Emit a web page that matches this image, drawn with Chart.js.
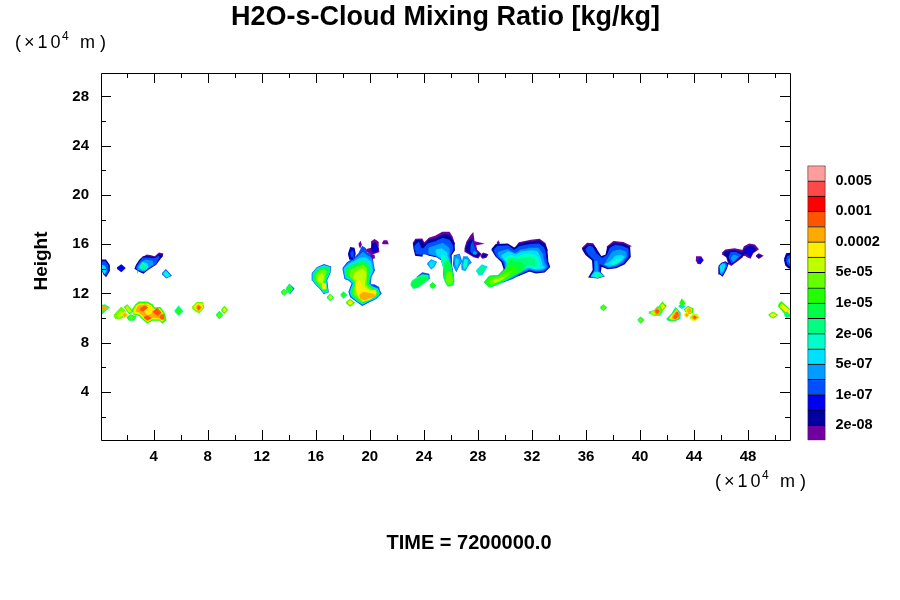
<!DOCTYPE html>
<html>
<head>
<meta charset="utf-8">
<title>H2O-s-Cloud Mixing Ratio</title>
<script src="https://cdn.jsdelivr.net/npm/chart.js@4"></script>
<style>
  html, body { margin: 0; background: #fff; }
  #wrap { position: relative; width: 900px; height: 600px; }
  canvas { position: absolute; left: 0; top: 0; }
</style>
</head>
<body>
<div id="wrap">
  <canvas id="fieldChart" width="900" height="600"></canvas>
  <canvas id="barChart" width="900" height="600"></canvas>
</div>
<script>
// axis values, in units of 10^4 m
const distanceTicks = [4, 8, 12, 16, 20, 24, 28, 32, 36, 40, 44, 48];
const distanceMinor = [2, 6, 10, 14, 18, 22, 26, 30, 34, 38, 42, 46, 50];
const heightTicks = [4, 8, 12, 16, 20, 24, 28];
const heightMinor = [2, 6, 10, 14, 18, 22, 26];

// colour levels, lowest to highest
const levelColors = ['#7000a0', '#0000a0', '#0000f0', '#0050ff', '#009cff', '#00e0ff', '#00ffc8', '#00ff80',
  '#00ff44', '#22ff00', '#66ff00', '#bfff00', '#ffee00', '#ffaa00', '#ff5500', '#ff0000', '#ff4848', '#ff9c9c'];
const levelLabels = ['2e-08', '1e-07', '5e-07', '2e-06', '1e-05', '5e-05', '0.0002', '0.001', '0.005'];
const levelLabelAt = [1, 3, 5, 7, 9, 11, 13, 15, 17];

// contour patches: [level, x, y, x, y, ...]
const upperWest = [
  [1, 0.07,14.7, 0.44,14.7, 0.7,14.3, 0.7,13.84, 0.47,13.42, 0.32,13.6, 0.2,13.9, 0.07,13.95],
  [3, 0.07,14.55, 0.4,14.55, 0.6,14.25, 0.6,13.85, 0.47,13.55, 0.34,13.72, 0.22,14.0, 0.07,14.05],
  [5, 0.07,14.3, 0.35,14.2, 0.47,13.84, 0.36,13.65, 0.2,13.95, 0.07,14.05],
  [2, 1.3,14.06, 1.6,14.3, 1.85,14.06, 1.6,13.8],
  [0, 3.2,14.9, 3.5,15.1, 3.8,15.05, 4.1,14.95, 4.4,15.25, 4.65,15.2, 4.6,15.0, 4.0,14.7, 3.4,14.7],
  [1, 4.64,15.1, 4.39,15.12, 4.15,14.9, 3.65,14.95, 3.23,14.95, 2.99,14.71, 2.74,14.3, 2.64,14.03, 2.91,13.84, 3.23,13.68, 3.48,13.9, 3.78,14.11, 4.15,14.38],
  [3, 4.4,15.0, 4.1,14.8, 3.6,14.85, 3.2,14.85, 3.0,14.55, 2.8,14.25, 2.75,14.03, 2.95,13.9, 3.25,13.78, 3.5,14.0, 3.8,14.2, 4.15,14.45],
  [4, 3.9,14.6, 3.4,14.7, 3.1,14.5, 2.9,14.2, 2.85,14.0, 3.1,13.9, 3.3,13.85, 3.55,14.1, 3.9,14.35],
  [5, 3.5,14.4, 3.2,14.5, 2.95,14.1, 3.2,13.95, 3.4,13.95, 3.55,14.15],
  [6, 3.0,14.2, 3.2,14.45, 3.45,14.2, 3.2,13.95],
  [7, 3.1,14.2, 3.2,14.3, 3.32,14.15, 3.2,14.0],
  [3, 4.64,13.6, 4.9,13.9, 5.26,13.45, 4.95,13.28],
  [5, 4.72,13.6, 4.9,13.8, 5.17,13.45, 4.97,13.35],
  [6, 4.85,13.6, 4.93,13.7, 5.05,13.5, 4.97,13.42]
];
const lowerWest = [
  [7, 0.07,11.0, 0.4,11.05, 0.67,10.85, 0.4,10.6, 0.2,10.4, 0.07,10.4],
  [13, 0.1,10.85, 0.4,10.95, 0.55,10.8, 0.3,10.65, 0.1,10.7],
  [10, 1.06,10.2, 1.3,10.5, 1.6,10.85, 1.85,10.6, 1.9,10.2, 1.6,10.0, 1.2,9.98],
  [11, 1.3,10.25, 1.6,10.55, 1.75,10.3, 1.45,10.1],
  [12, 1.7,10.25, 1.85,10.45, 2.05,10.25, 1.85,10.05],
  [13, 1.77,10.25, 1.85,10.35, 1.96,10.25, 1.85,10.15],
  [9, 1.85,10.9, 2.05,11.05, 2.4,10.55, 2.2,10.4],
  [11, 1.95,10.85, 2.05,10.95, 2.3,10.55, 2.2,10.5],
  [8, 2.05,10.05, 2.3,10.25, 2.65,10.1, 2.5,9.85, 2.2,9.85],
  [10, 2.2,10.05, 2.3,10.15, 2.52,10.05, 2.45,9.95, 2.25,9.95],
  [9, 2.42,10.65, 2.67,11.06, 2.91,11.28, 3.53,11.28, 3.9,11.06, 4.02,10.79, 4.47,10.84, 4.77,10.38, 4.89,9.84, 4.64,9.63, 4.47,9.84, 3.9,9.84, 3.53,9.63, 3.28,9.84, 2.91,10.25, 2.54,10.33],
  [12, 2.55,10.65, 2.75,11.0, 3.0,11.15, 3.5,11.15, 3.8,10.98, 3.98,10.68, 4.42,10.72, 4.68,10.35, 4.75,9.9, 4.62,9.78, 4.45,9.95, 3.9,9.95, 3.55,9.75, 3.32,9.95, 2.95,10.35, 2.6,10.42],
  [13, 2.7,10.6, 2.9,10.95, 3.4,11.05, 3.75,10.85, 3.85,10.55, 4.0,10.55, 4.4,10.6, 4.6,10.25, 4.65,9.95, 4.4,10.05, 3.9,10.1, 3.5,9.9, 3.3,10.15, 2.95,10.5],
  [12, 3.55,10.95, 3.85,10.8, 3.8,10.4, 3.55,10.3, 3.35,10.55],
  [14, 3.0,10.7, 3.3,10.95, 3.5,10.85, 3.2,10.6],
  [14, 4.0,10.5, 4.25,10.75, 4.5,10.45, 4.3,10.25],
  [14, 3.3,10.05, 3.55,10.15, 3.75,10.0, 3.55,9.85],
  [14, 4.5,10.15, 4.7,10.25, 4.72,9.95, 4.55,9.95],
  [6, 5.57,10.55, 5.85,10.95, 6.13,10.55, 5.85,10.25],
  [9, 5.68,10.55, 5.85,10.8, 6.02,10.55, 5.85,10.35],
  [10, 6.86,10.85, 7.2,11.25, 7.6,11.25, 7.7,10.85, 7.35,10.45, 7.1,10.6],
  [12, 7.0,10.85, 7.25,11.15, 7.55,11.1, 7.6,10.85, 7.35,10.6],
  [13, 7.15,10.85, 7.3,11.05, 7.5,10.9, 7.35,10.65],
  [14, 7.25,10.85, 7.32,10.95, 7.42,10.85, 7.33,10.72],
  [8, 8.65,10.25, 8.86,10.5, 9.07,10.25, 8.86,10.0],
  [10, 8.76,10.25, 8.86,10.38, 8.96,10.25, 8.86,10.12],
  [9, 9.03,10.65, 9.23,10.9, 9.43,10.65, 9.23,10.4],
  [12, 9.13,10.65, 9.23,10.78, 9.33,10.65, 9.23,10.52]
];
const middleCell = [
  [8, 13.45,12.09, 13.65,12.3, 13.87,12.09, 13.65,11.87],
  [10, 13.56,12.09, 13.65,12.2, 13.76,12.09, 13.65,11.98],
  [3, 13.85,12.36, 14.05,12.7, 14.35,12.4, 14.1,12.05],
  [7, 13.8,12.36, 14.05,12.7, 14.27,12.36, 14.05,12.05],
  [9, 13.92,12.36, 14.05,12.55, 14.17,12.36, 14.05,12.2],
  [3, 15.75,13.63, 16.1,14.08, 16.61,14.32, 17.08,14.15, 17.03,13.63, 16.79,13.09, 16.9,12.14, 16.61,12.0, 16.35,12.38, 15.97,12.8, 15.77,13.09],
  [5, 15.8,13.63, 16.12,14.03, 16.61,14.25, 17.03,14.11, 16.98,13.63, 16.74,13.09, 16.86,12.14, 16.61,12.06, 16.37,12.41, 16.0,12.82, 15.82,13.09],
  [8, 15.9,13.6, 16.2,13.95, 16.6,14.1, 16.92,14.0, 16.88,13.6, 16.65,13.05, 16.78,12.25, 16.62,12.15, 16.4,12.5, 16.05,12.9, 15.9,13.15],
  [10, 16.05,13.5, 16.3,13.8, 16.6,13.9, 16.75,13.75, 16.65,13.3, 16.55,12.9, 16.7,12.4, 16.55,12.35, 16.3,12.75, 16.05,13.1],
  [11, 16.2,13.4, 16.45,13.6, 16.55,13.35, 16.45,12.9, 16.2,13.05],
  [12, 16.5,12.8, 16.7,12.75, 16.72,12.4, 16.55,12.4],
  [8, 16.85,11.68, 17.06,11.9, 17.27,11.68, 17.06,11.45],
  [11, 16.96,11.68, 17.06,11.8, 17.17,11.68, 17.06,11.56],
  [7, 17.85,11.87, 18.05,12.1, 18.27,11.87, 18.05,11.65],
  [9, 17.95,11.87, 18.05,12.0, 18.17,11.87, 18.05,11.75],
  [9, 18.27,11.25, 18.54,11.5, 18.82,11.25, 18.54,11.0],
  [12, 18.4,11.25, 18.54,11.38, 18.68,11.25, 18.54,11.12],
  [3, 18.02,14.03, 18.34,14.49, 18.84,14.84, 19.21,15.25, 19.45,15.79, 19.65,15.65, 19.75,15.3, 20.14,15.11, 20.24,14.3, 20.32,13.9, 20.07,13.36, 20.0,12.68, 20.32,12.68, 20.64,12.49, 20.69,12.22, 20.81,12.0, 20.44,11.6, 19.95,11.33, 19.45,11.06, 19.08,11.33, 18.59,11.73, 18.47,12.14, 18.71,12.82, 18.47,13.09, 18.17,13.22],
  [4, 18.08,14.0, 18.4,14.42, 18.87,14.72, 19.25,15.05, 19.5,15.3, 19.72,15.1, 20.1,14.85, 20.2,14.2, 20.22,13.85, 20.02,13.36, 19.95,12.9, 18.7,12.9, 18.5,13.12, 18.2,13.26],
  [5, 18.12,14.0, 18.45,14.35, 18.9,14.6, 19.3,14.85, 19.7,14.85, 20.05,14.55, 20.18,13.9, 19.98,13.36, 19.9,12.75, 20.2,12.5, 20.55,12.35, 20.7,12.0, 20.4,11.65, 19.9,11.4, 19.45,11.15, 19.1,11.4, 18.65,11.8, 18.55,12.14, 18.8,12.82, 18.55,13.15, 18.25,13.3],
  [8, 18.2,13.9, 18.55,14.2, 19.0,14.4, 19.4,14.6, 19.8,14.4, 20.0,14.0, 19.9,13.4, 19.85,12.75, 20.25,12.4, 20.55,12.2, 20.6,12.0, 20.3,11.7, 19.85,11.48, 19.45,11.25, 19.1,11.48, 18.7,11.85, 18.65,12.14, 18.9,12.82, 18.65,13.2, 18.3,13.4],
  [10, 18.45,13.8, 18.8,14.0, 19.2,14.2, 19.5,14.3, 19.75,14.0, 19.75,13.4, 19.7,12.7, 20.1,12.35, 20.45,12.15, 20.5,12.0, 20.2,11.7, 19.8,11.5, 19.45,11.35, 19.15,11.6, 18.85,11.95, 18.8,12.2, 19.0,12.8, 18.75,13.2, 18.55,13.45],
  [11, 18.85,13.6, 19.2,13.85, 19.5,13.95, 19.7,13.6, 19.6,13.0, 19.6,12.6, 20.0,12.2, 20.4,12.1, 20.4,11.9, 20.0,11.55, 19.5,11.4, 19.2,11.75, 19.0,12.1, 19.05,12.75, 18.9,13.2],
  [12, 18.95,12.9, 19.2,13.0, 19.4,12.6, 19.7,12.3, 20.05,12.15, 20.35,12.25, 20.38,11.95, 20.0,11.58, 19.5,11.45, 19.25,11.8, 19.05,12.2],
  [13, 19.26,11.85, 19.5,12.05, 19.9,12.0, 20.3,11.9, 20.3,11.75, 19.9,11.65, 19.6,11.5, 19.35,11.6],
  [1, 18.43,15.2, 18.58,15.7, 18.82,15.65, 18.9,15.2, 18.77,14.8, 18.53,14.8],
  [2, 18.5,15.2, 18.62,15.58, 18.78,15.52, 18.83,15.2, 18.72,14.9, 18.57,14.92],
  [3, 18.6,15.3, 18.7,15.4, 18.75,15.15, 18.65,15.05],
  [0, 19.2,16.0, 19.3,16.15, 19.35,15.95, 19.28,15.78],
  [0, 19.75,15.55, 20.1,15.65, 20.15,16.2, 20.35,16.35, 20.55,16.2, 20.6,15.7, 20.65,15.4, 20.4,15.3, 20.1,15.2, 19.85,15.4],
  [1, 20.15,15.65, 20.22,16.05, 20.4,16.1, 20.55,15.7, 20.58,15.5, 20.35,15.38, 20.2,15.4],
  [2, 20.3,15.7, 20.4,15.85, 20.5,15.65, 20.35,15.5],
  [0, 20.1,15.15, 20.3,15.1, 20.32,14.9, 20.2,14.85],
  [0, 20.94,16.05, 21.05,16.25, 21.25,16.25, 21.32,16.05]
];
const towerCell = [
  [0, 23.21,16.05, 23.4,16.38, 23.85,16.4, 24.02,16.05, 24.39,16.46, 24.89,16.65, 25.38,16.95, 25.87,16.95, 26.07,16.59, 26.24,16.05, 26.0,15.8, 24.0,15.7, 23.4,15.8],
  [1, 23.25,16.0, 23.45,16.28, 23.8,16.3, 24.0,15.9, 24.4,16.3, 24.9,16.45, 25.4,16.75, 25.85,16.75, 26.05,16.4, 26.22,16.05, 26.24,15.51, 26.0,15.11, 26.02,14.5, 25.6,14.5, 25.38,14.7, 25.01,14.97, 24.39,15.11, 23.9,15.38, 23.85,15.05, 23.4,15.11, 23.28,15.65],
  [3, 23.35,15.85, 23.6,16.1, 23.75,15.7, 23.95,15.55, 24.3,16.0, 24.9,16.2, 25.4,16.45, 25.85,16.3, 26.1,15.9, 26.1,15.5, 25.9,15.1, 26.02,14.4, 26.15,13.5, 25.55,13.5, 25.5,14.1, 25.3,14.75, 24.95,15.05, 24.4,15.2, 23.95,15.25, 23.7,15.2, 23.45,15.25, 23.4,15.6],
  [4, 24.4,15.7, 24.9,15.85, 25.4,16.05, 25.8,15.7, 25.85,15.1, 25.98,14.3, 26.15,13.3, 25.55,13.3, 25.5,14.1, 25.3,14.8, 24.9,15.1, 24.4,15.25],
  [5, 24.9,15.5, 25.3,15.6, 25.65,15.3, 25.78,14.8, 25.98,14.0, 26.18,13.2, 25.55,13.2, 25.52,14.0, 25.3,14.9, 25.0,15.1],
  [6, 25.3,15.1, 25.55,15.0, 25.78,14.3, 26.0,13.5, 26.2,13.0, 25.6,13.0, 25.52,13.9, 25.35,14.6],
  [8, 25.55,14.5, 25.8,14.7, 26.0,14.2, 26.2,13.1, 26.15,12.7, 25.8,12.62, 25.6,12.95, 25.52,13.8],
  [10, 25.72,13.7, 25.98,13.7, 26.1,13.05, 26.02,12.8, 25.82,12.78, 25.68,13.0],
  [3, 26.2,14.3, 26.26,15.05, 26.62,15.15, 26.77,14.6, 26.58,14.25, 26.4,13.85],
  [4, 26.24,14.3, 26.3,15.0, 26.6,15.1, 26.72,14.6, 26.55,14.3, 26.4,13.9],
  [5, 26.35,14.4, 26.4,14.8, 26.55,14.7, 26.45,14.2],
  [4, 26.81,14.3, 26.95,14.95, 27.2,14.95, 27.48,14.5, 27.3,14.35, 27.05,13.9, 26.85,13.95],
  [6, 26.95,14.3, 27.05,14.75, 27.2,14.7, 27.15,14.2, 27.0,14.05],
  [0, 27.06,15.7, 27.2,16.2, 27.5,16.7, 27.62,16.85, 27.7,16.2, 28.25,16.05, 27.8,15.95, 27.9,15.5, 28.2,15.2, 28.0,14.9, 27.7,15.0, 27.4,15.2, 27.1,15.4],
  [1, 27.15,15.7, 27.3,16.15, 27.55,16.45, 27.62,16.1, 27.72,15.75, 27.85,15.4, 28.1,15.2, 27.95,15.0, 27.7,15.1, 27.4,15.3, 27.18,15.45],
  [3, 27.5,15.9, 27.6,16.1, 27.75,15.6, 27.9,15.3, 27.7,15.2, 27.5,15.4],
  [4, 27.65,15.3, 27.75,15.4, 27.9,15.3, 27.8,15.2],
  [0, 28.22,15.05, 28.4,15.25, 28.7,15.15, 28.6,14.95, 28.35,14.89],
  [1, 28.32,15.05, 28.42,15.15, 28.58,15.1, 28.5,15.0, 28.38,14.98],
  [4, 24.27,14.4, 24.55,14.7, 24.9,14.55, 24.75,14.2, 24.55,14.03],
  [5, 24.4,14.4, 24.58,14.58, 24.78,14.5, 24.65,14.22, 24.55,14.15],
  [5, 27.9,13.85, 28.3,14.3, 28.65,14.15, 28.3,13.55, 28.1,13.5],
  [7, 28.02,13.85, 28.3,14.15, 28.5,14.05, 28.25,13.68, 28.12,13.65],
  [3, 23.5,13.3, 23.9,13.65, 24.35,13.55, 24.38,13.2, 24.0,13.0],
  [7, 23.05,12.7, 23.15,13.0, 23.6,13.35, 23.9,13.5, 24.28,13.45, 24.3,13.1, 24.0,12.88, 23.6,12.53, 23.25,12.43],
  [8, 23.1,12.7, 23.25,12.95, 23.7,13.2, 24.15,13.3, 24.15,13.1, 23.85,12.85, 23.5,12.6, 23.25,12.5],
  [8, 24.45,12.65, 24.64,12.85, 24.85,12.65, 24.64,12.45],
  [9, 24.55,12.65, 24.64,12.75, 24.75,12.65, 24.64,12.55],
  [0, 29.42,16.05, 29.5,16.2, 29.55,16.05],
  [0, 30.9,15.85, 31.06,16.1, 31.93,16.3, 32.55,16.38, 32.95,16.05, 33.1,15.55, 32.6,15.7, 31.5,15.7],
  [1, 29.04,15.57, 29.34,15.95, 30.2,16.0, 30.69,15.65, 31.06,16.0, 31.93,16.18, 32.55,16.25, 32.92,15.95, 33.09,15.52, 33.16,14.57, 33.29,14.17, 32.92,13.76, 32.3,13.68, 31.8,13.84, 31.06,13.49, 30.57,13.3, 30.0,13.6, 29.95,14.03, 29.78,14.57, 29.34,15.03],
  [3, 29.2,15.5, 29.45,15.8, 30.2,15.85, 30.7,15.45, 31.1,15.8, 31.9,15.95, 32.5,16.0, 32.85,15.7, 32.95,15.4, 33.05,14.6, 33.18,14.17, 32.85,13.85, 32.3,13.78, 31.8,13.95, 31.1,13.6, 30.6,13.25, 30.1,13.05, 29.55,12.82, 28.9,12.55, 28.55,12.92, 28.88,13.38, 29.5,13.42, 30.05,14.03, 29.9,14.6, 29.45,15.0],
  [4, 29.5,15.3, 30.2,15.55, 30.75,15.2, 31.15,15.5, 31.9,15.65, 32.45,15.65, 32.75,15.2, 32.85,14.6, 33.05,14.17, 32.75,13.95, 32.3,13.88, 31.8,14.05, 31.1,13.7, 30.6,13.35, 30.1,13.1, 29.55,12.9, 28.95,12.62, 28.6,12.92, 28.9,13.32, 29.55,13.35, 30.12,13.95, 30.0,14.6, 29.6,15.0],
  [5, 29.75,15.05, 30.25,15.35, 30.8,15.1, 31.2,15.35, 31.9,15.45, 32.35,15.4, 32.6,14.9, 32.75,14.25, 32.9,14.1, 32.6,14.0, 32.2,14.0, 31.75,14.15, 31.1,13.8, 30.6,13.45, 30.1,13.18, 29.55,12.95, 28.95,12.68, 28.65,12.92, 28.95,13.28, 29.6,13.28, 30.2,13.85, 30.15,14.55],
  [6, 30.0,14.85, 30.4,15.05, 30.85,14.9, 31.3,15.1, 31.85,15.2, 32.25,15.05, 32.5,14.6, 32.6,14.15, 32.2,14.05, 31.75,14.25, 31.1,13.9, 30.6,13.5, 30.1,13.15, 29.55,12.85, 28.95,12.6, 28.65,12.92, 28.95,13.3, 29.6,13.3, 30.2,13.85, 30.2,14.5],
  [7, 30.2,14.75, 30.65,14.85, 31.0,14.75, 31.5,14.85, 31.85,14.95, 32.2,14.7, 32.2,14.25, 31.75,14.4, 31.1,14.0, 30.6,13.6, 30.1,13.2, 29.55,12.8, 28.95,12.6, 28.6,12.92, 29.0,13.3, 29.65,13.3, 30.2,13.8],
  [8, 30.35,14.7, 30.7,14.6, 31.2,14.5, 31.5,14.2, 31.2,13.8, 30.6,13.5, 30.1,13.15, 29.55,12.85, 28.85,12.55, 28.5,12.92, 28.85,13.35, 29.5,13.4, 30.05,13.95],
  [9, 30.1,14.0, 30.45,14.2, 30.8,14.05, 30.95,13.75, 30.5,13.5, 30.05,13.2, 29.55,12.95, 28.9,12.62, 28.6,12.92, 28.9,13.25, 29.5,13.35],
  [10, 28.85,12.9, 29.1,13.15, 29.6,13.28, 30.1,13.6, 30.35,13.7, 30.1,13.35, 29.55,13.05, 29.0,12.75],
  [11, 29.2,13.05, 29.6,13.15, 29.95,13.3, 29.55,13.05, 29.2,12.92]
];
const easternCell = [
  [0, 35.72,15.65, 36.1,16.05, 36.5,16.02, 36.75,15.6, 36.5,15.5, 36.0,15.4],
  [0, 37.55,15.75, 38.05,16.2, 38.75,16.12, 39.25,15.85, 38.7,15.7, 38.0,15.6],
  [1, 35.76,15.6, 36.13,15.92, 36.5,15.9, 36.7,15.65, 37.11,14.97, 37.49,15.11, 37.61,15.72, 38.1,16.08, 38.72,16.0, 39.21,15.75, 39.26,14.97, 38.84,14.43, 38.23,14.11, 37.61,14.03, 37.29,14.16, 37.11,14.24, 37.04,13.7, 37.29,13.43, 36.87,13.27, 36.25,13.35, 36.55,13.89, 36.5,14.7, 36.0,15.16],
  [3, 36.0,15.55, 36.2,15.8, 36.45,15.75, 36.75,15.2, 37.2,14.8, 37.6,15.1, 37.8,15.65, 38.2,15.9, 38.7,15.8, 39.1,15.6, 39.1,15.0, 38.75,14.5, 38.2,14.2, 37.65,14.1, 37.3,14.3, 36.95,14.5, 36.95,13.8, 37.2,13.45, 36.85,13.33, 36.4,13.4, 36.65,13.85, 36.65,14.75, 36.2,15.2],
  [4, 36.8,14.6, 36.85,14.1, 36.85,13.6, 36.7,13.45, 36.5,13.42, 36.72,13.9, 36.7,14.6],
  [4, 37.7,14.9, 38.0,15.4, 38.5,15.5, 38.95,15.35, 38.95,15.0, 38.6,14.55, 38.2,14.3, 37.7,14.2, 37.4,14.35],
  [5, 37.75,14.5, 38.2,15.0, 38.6,15.1, 38.8,14.95, 38.5,14.6, 38.15,14.4, 37.75,14.3, 37.5,14.38],
  [6, 37.9,14.45, 38.3,14.75, 38.55,14.75, 38.3,14.5, 38.0,14.38],
  [5, 36.4,13.38, 36.65,13.7, 36.9,13.7, 37.22,13.45, 36.87,13.32],
  [6, 36.7,13.6, 36.95,13.65, 37.2,13.45, 36.9,13.35, 36.7,13.4],
  [7, 36.85,13.45, 37.0,13.55, 37.15,13.45, 36.95,13.38],
  [8, 37.07,10.86, 37.29,11.05, 37.5,10.86, 37.29,10.65],
  [10, 37.18,10.86, 37.29,10.95, 37.4,10.86, 37.29,10.75],
  [8, 39.85,9.84, 40.05,10.05, 40.25,9.84, 40.05,9.62],
  [10, 39.95,9.84, 40.05,9.95, 40.15,9.84, 40.05,9.73],
  [7, 40.65,10.45, 41.1,10.62, 41.3,10.9, 41.55,10.9, 41.62,10.5, 41.45,10.25, 41.0,10.25],
  [10, 40.78,10.45, 41.1,10.52, 41.3,10.78, 41.48,10.78, 41.52,10.5, 41.4,10.32, 41.0,10.32],
  [11, 40.85,10.45, 41.05,10.55, 41.05,10.35, 40.85,10.35],
  [13, 41.05,10.55, 41.25,10.8, 41.45,10.6, 41.25,10.32],
  [14, 41.15,10.55, 41.25,10.65, 41.38,10.55, 41.25,10.42],
  [9, 41.45,10.97, 41.65,11.25, 41.9,10.97, 41.65,10.65],
  [12, 41.55,10.95, 41.65,11.1, 41.78,10.95, 41.65,10.8],
  [5, 42.87,10.95, 43.1,11.1, 43.3,10.95, 43.1,10.8],
  [9, 42.95,11.2, 43.1,11.5, 43.3,11.2, 43.1,11.0],
  [5, 41.98,9.9, 42.35,10.3, 42.62,10.8, 42.96,10.4, 42.94,9.98, 42.6,9.8, 42.2,9.8],
  [9, 42.05,9.95, 42.4,10.3, 42.65,10.75, 42.92,10.4, 42.9,10.0, 42.6,9.84, 42.2,9.84],
  [12, 42.2,10.0, 42.45,10.3, 42.7,10.6, 42.85,10.35, 42.8,10.05, 42.55,9.92, 42.3,9.95],
  [13, 42.4,10.0, 42.5,10.25, 42.7,10.5, 42.82,10.3, 42.75,10.05, 42.55,9.95],
  [14, 42.5,10.05, 42.6,10.22, 42.72,10.1, 42.6,9.98],
  [14, 42.65,10.4, 42.75,10.45, 42.8,10.3, 42.7,10.3],
  [9, 43.29,10.65, 43.55,10.92, 43.9,10.75, 43.85,10.45, 43.55,10.38],
  [12, 43.38,10.65, 43.55,10.82, 43.8,10.7, 43.76,10.5, 43.55,10.46],
  [13, 43.5,10.65, 43.65,10.75, 43.78,10.6, 43.6,10.5],
  [12, 43.29,10.25, 43.45,10.43, 43.6,10.25, 43.45,10.1],
  [13, 43.38,10.25, 43.45,10.33, 43.52,10.25, 43.45,10.18],
  [11, 43.71,10.05, 43.95,10.3, 44.2,10.25, 44.35,10.05, 44.1,9.84, 43.9,9.85],
  [13, 43.85,10.05, 44.0,10.2, 44.2,10.05, 44.05,9.92],
  [14, 43.95,10.05, 44.05,10.12, 44.12,10.05, 44.05,9.98],
  [0, 44.15,14.75, 44.2,14.95, 44.5,14.95, 44.65,14.7, 44.45,14.43, 44.3,14.45],
  [2, 44.3,14.6, 44.45,14.85, 44.6,14.7, 44.45,14.5],
  [0, 46.08,15.24, 46.33,15.51, 46.99,15.6, 47.61,15.46, 47.73,15.78, 48.1,16.0, 48.47,15.92, 48.72,15.6, 48.35,15.32, 48.15,14.89, 47.98,14.97, 47.66,15.2, 47.56,14.97, 47.24,14.7, 46.75,14.3, 46.57,14.43, 46.43,14.97],
  [1, 46.2,15.22, 46.4,15.4, 47.0,15.45, 47.6,15.3, 47.8,15.65, 48.1,15.85, 48.4,15.78, 48.55,15.55, 48.25,15.3, 48.15,15.0, 47.95,15.2, 47.7,15.3, 47.5,14.98, 47.2,14.75, 46.75,14.4, 46.6,14.6, 46.45,15.0],
  [3, 46.6,14.95, 46.75,15.3, 47.1,15.3, 47.45,15.1, 47.2,14.85, 46.8,14.5],
  [2, 47.9,15.45, 48.1,15.65, 48.3,15.45, 48.15,15.1, 48.0,15.2],
  [4, 46.75,14.85, 46.95,15.1, 47.2,15.0, 46.9,14.65],
  [1, 45.85,14.2, 46.05,14.45, 46.3,14.55, 46.5,14.4, 46.35,13.95, 46.1,13.45, 45.9,13.6],
  [3, 45.9,14.2, 46.08,14.4, 46.28,14.48, 46.42,14.35, 46.28,13.95, 46.08,13.55, 45.95,13.65],
  [4, 45.93,14.2, 46.1,14.38, 46.25,14.4, 46.3,14.2, 46.15,13.8, 46.05,13.65],
  [5, 45.95,14.2, 46.1,14.35, 46.25,14.3, 46.15,13.9, 46.0,13.75],
  [0, 48.6,15.05, 48.8,15.2, 49.04,15.05, 48.8,14.88],
  [1, 48.72,15.05, 48.8,15.1, 48.9,15.05, 48.8,14.98],
  [1, 50.7,14.75, 50.85,15.2, 51.2,15.25, 51.2,14.05, 51.0,14.1, 50.8,14.3],
  [3, 50.85,14.7, 50.95,15.0, 51.2,15.05, 51.2,14.2, 50.95,14.4],
  [4, 51.0,14.7, 51.2,14.9, 51.2,14.3],
  [9, 49.54,10.25, 49.85,10.47, 50.13,10.25, 49.85,10.03],
  [12, 49.65,10.25, 49.85,10.38, 50.02,10.25, 49.85,10.13],
  [9, 50.25,11.0, 50.45,11.3, 50.8,10.95, 51.2,10.55, 51.2,10.1, 50.85,10.2, 50.6,10.55],
  [12, 50.4,10.95, 50.5,11.1, 50.85,10.8, 51.2,10.45, 51.2,10.25, 50.9,10.4, 50.65,10.7],
  [7, 50.7,10.25, 50.87,10.45, 51.05,10.25, 50.87,10.05]
];

const black = '#000';
const tickFont = { family: 'Liberation Sans', size: 15, weight: 'bold' };

// turn a flat patch into closed {x, y} points
function patchPoints(patch) {
  let pts = [];
  for (let i = 1; i < patch.length; i += 2) pts.push({ x: patch[i], y: patch[i + 1] });
  pts.push(pts[0]);
  return pts;
}

let patches = [...upperWest, ...lowerWest, ...middleCell, ...towerCell, ...easternCell];
let fieldSets = patches.map((p, i) => ({
  data: patchPoints(p),
  showLine: true,
  fill: 'shape',
  backgroundColor: levelColors[p[0]],
  borderColor: levelColors[p[0]],
  borderWidth: 1.5,
  pointRadius: 0,
  order: -i
}));

// the (x10^4 m) unit note, with its raised power
function drawUnit(c, x, y) {
  c.textAlign = 'left';
  c.font = '18px "Liberation Sans"';
  c.letterSpacing = '3px';
  c.fillText('(×10', x, y);
  c.letterSpacing = '0px';
  c.fillText('m', x + 65, y);
  c.fillText(')', x + 85, y);
  c.font = '12px "Liberation Sans"';
  c.fillText('4', x + 47, y - 6);
}

// frame with inward ticks on all four sides, and the free text
const framePlugin = {
  id: 'frame',
  afterDraw(chart) {
    let c = chart.ctx, a = chart.chartArea, sx = chart.scales.x, sy = chart.scales.y;
    c.save();
    c.strokeStyle = black;
    c.lineWidth = 1;
    c.beginPath();
    c.rect(Math.round(a.left) + 0.5, Math.round(a.top) + 0.5, Math.round(a.width), Math.round(a.height));
    let vTick = (v, len) => {
      let x = Math.round(sx.getPixelForValue(v)) + 0.5;
      c.moveTo(x, a.bottom); c.lineTo(x, a.bottom - len);
      c.moveTo(x, a.top); c.lineTo(x, a.top + len);
    };
    let hTick = (v, len) => {
      let y = Math.round(sy.getPixelForValue(v)) + 0.5;
      c.moveTo(a.left, y); c.lineTo(a.left + len, y);
      c.moveTo(a.right, y); c.lineTo(a.right - len, y);
    };
    distanceTicks.forEach(v => vTick(v, 10));
    distanceMinor.forEach(v => vTick(v, 5));
    heightTicks.forEach(v => hTick(v, 10));
    heightMinor.forEach(v => hTick(v, 5));
    c.stroke();

    c.fillStyle = black;
    c.textBaseline = 'middle';
    drawUnit(c, 15, 43);
    drawUnit(c, 715, 482);
    c.textAlign = 'center';
    c.font = 'bold 20px "Liberation Sans"';
    c.fillText('TIME = 7200000.0', 469, 543);
    c.translate(42, 261);
    c.rotate(-Math.PI / 2);
    c.font = 'bold 19px "Liberation Sans"';
    c.fillText('Height', 0, 0);
    c.restore();
  }
};

new Chart(document.getElementById('fieldChart').getContext('2d'), {
  type: 'scatter',
  data: { datasets: fieldSets },
  plugins: [framePlugin],
  options: {
    responsive: false,
    animation: false,
    devicePixelRatio: 1,
    layout: { padding: { left: 0, right: 110, top: 0, bottom: 0 } },
    plugins: {
      legend: { display: false },
      tooltip: { enabled: false },
      title: {
        display: true,
        text: 'H2O-s-Cloud Mixing Ratio [kg/kg]',
        color: black,
        fullSize: false,
        font: { family: 'Liberation Sans', size: 27, weight: 'bold', lineHeight: 1.1 },
        padding: { top: 3, bottom: 40.3 }
      }
    },
    scales: {
      x: {
        type: 'linear', min: 0.1, max: 51.1,
        grid: { display: false }, border: { display: false },
        afterBuildTicks: s => { s.ticks = distanceTicks.map(v => ({ value: v })); },
        afterFit: s => { s.height = 160; },
        ticks: { color: black, font: tickFont, padding: 0, maxRotation: 0, autoSkip: false }
      },
      y: {
        type: 'linear', min: 0.1, max: 29.9,
        grid: { display: false }, border: { display: false },
        afterBuildTicks: s => { s.ticks = heightTicks.map(v => ({ value: v })); },
        afterFit: s => { s.width = 101; },
        ticks: { color: black, font: tickFont, padding: 4, autoSkip: false }
      }
    }
  }
});

// colour bar: one stacked bar, one box per level
new Chart(document.getElementById('barChart').getContext('2d'), {
  type: 'bar',
  data: {
    labels: [''],
    datasets: levelColors.map(col => ({
      data: [1], backgroundColor: col, borderColor: black, borderWidth: 1,
      barPercentage: 1, categoryPercentage: 1
    }))
  },
  options: {
    responsive: false,
    animation: false,
    devicePixelRatio: 1,
    layout: { padding: { left: 807.5, right: 0, top: 165.5, bottom: 159.5 } },
    plugins: { legend: { display: false }, tooltip: { enabled: false } },
    scales: {
      x: { stacked: true, display: false },
      y: {
        stacked: true, position: 'right', min: 0, max: 18,
        grid: { display: false }, border: { display: false },
        afterBuildTicks: s => { s.ticks = levelLabelAt.map(v => ({ value: v })); },
        afterFit: s => { s.width = 74.5; },
        ticks: {
          color: black, font: { family: 'Liberation Sans', size: 14.5, weight: 'bold' }, padding: 2, autoSkip: false,
          callback: v => levelLabels[levelLabelAt.indexOf(v)]
        }
      }
    }
  }
});
</script>
</body>
</html>
